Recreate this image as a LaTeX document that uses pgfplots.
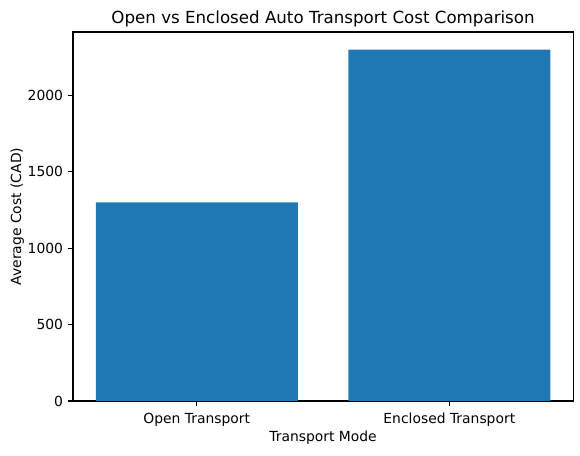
\documentclass[border=0pt]{standalone}
\usepackage{pgfplots}
\pgfplotsset{compat=1.18}
\usepackage{fontspec}
\setmainfont{DejaVu Sans}
\definecolor{mplblue}{HTML}{1F77B4}
\begin{document}
\begin{tikzpicture}
\path[use as bounding box] (-52.6pt,-38.9pt) rectangle (365pt,288.7pt);
\begin{axis}[
  at={(0,0)}, anchor=south west,
  scale only axis,
  width=360pt, height=265.7pt,
  xmin=-0.49, xmax=1.49,
  ymin=0, ymax=2415,
  xtick={0,1},
  xticklabels={Open Transport, Enclosed Transport},
  ytick={0,500,1000,1500,2000},
  /pgf/number format/assume math mode=true,
  /pgf/number format/1000 sep={},
  tick label style={font=\fontsize{10}{12}\selectfont, inner sep=0pt},
  yticklabel style={anchor=east, xshift=-3.5pt},
  xticklabel style={anchor=base, yshift=-12.5pt},
  label style={font=\fontsize{10}{12}\selectfont},
  xlabel style={at={(axis description cs:0.5,-0.111)}, anchor=base, inner sep=0pt},
  ylabel style={at={(axis description cs:-0.1039,0.5)}, anchor=base, inner sep=0pt},
  xlabel={Transport Mode},
  ylabel={Average Cost (CAD)},
  tick align=outside,
  major tick length=3.5pt,
  tick style={black, line width=0.8pt},
  axis line style={line width=0.8pt},
  xtick pos=bottom, ytick pos=left,
  minor tick num=0,
  clip=false,
]
\addplot[ybar, bar width=0.8, fill=mplblue, draw=none] coordinates {(0,1300) (1,2300)};
\node[anchor=base, inner sep=0pt, font=\fontsize{12}{14}\selectfont] at (axis description cs:0.5,1.0217) {Open vs Enclosed Auto Transport Cost Comparison};
\end{axis}
\end{tikzpicture}
\end{document}
